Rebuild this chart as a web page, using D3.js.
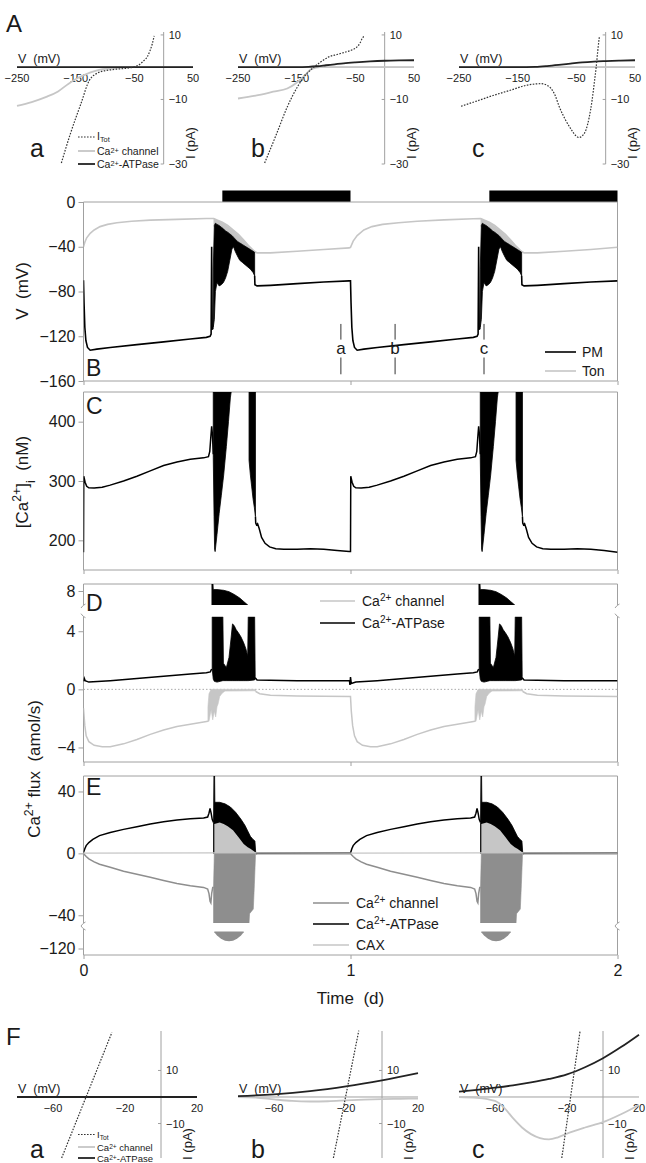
<!DOCTYPE html>
<html><head><meta charset="utf-8">
<script src="https://cdn.jsdelivr.net/npm/d3@7"></script>
<style>
body{margin:0;background:#fff;}
svg{display:block;font-family:"Liberation Sans",Arial,sans-serif;}
text{white-space:pre;fill:#1a1a1a;}
</style></head><body>
<svg id="fig" width="646" height="1163"></svg>
<script>
// ================= DATA =================
// time axis (days)
const timeTicks = [0, 1, 2];
const nightStart = [0.52, 1.52];
const nightEnd = [1.0, 2.0];
const markerTimes = [0.964, 1.167, 1.5];
const markerLabels = ["a", "b", "c"];
const vTicksB = [0, -40, -80, -120, -160];
const caTicksC = [400, 300, 200];
const fluxTicksD = [4, 0, -4];
const fluxTicksDUp = [8];
const fluxTicksE = [40, 0, -40];
const fluxTicksELow = [-120];

// Panel A: I-V curves [V (mV), I (pA)]
const ivTicksVA = [-250, -150, -50, 50];
const ivTicksIA = [10, -10, -30];
const A_a_tot = [[-174.4,-29.7],[-158.8,-20.5],[-141,-11.3],[-126.7,-4.1],[-108.9,-1.5],[-90,-0.8],[-73.2,-0.5],[-51.9,0],[-40,1.0],[-34,2.0],[-28,3.2],[-23.3,5.1],[-19.5,7.2],[-16.2,9.7]];
const A_a_chan = [[-250,-12],[-225,-10.8],[-200,-9.2],[-180,-7.5],[-162,-5.1],[-145,-3.2],[-130,-2],[-123,-1.5],[-110,-0.8],[-95,-0.4],[-80,-0.2],[-60,0],[50,0]];
const A_a_atp = [[-250,0],[50,0]];
const A_b_tot = [[-204.6,-29.7],[-185,-21],[-166,-12.3],[-150,-6.5],[-138,-3.1],[-124,-0.5],[-110,1.5],[-96.5,3.1],[-80,4.0],[-68.5,4.6],[-55,5.4],[-47.6,6.2],[-42,7.5],[-38,9],[-33.6,9.7]];
const A_b_chan = [[-250,-9.7],[-220,-8.8],[-190,-7.6],[-166,-6.6],[-150,-4.8],[-138,-2.9],[-124,-0.5],[-110,0],[50,0]];
const A_b_atp = [[-250,0],[-150,0],[-130,0.1],[-115,0.3],[-100,0.6],[-85,0.9],[-70,1.2],[-50,1.5],[-25,1.8],[0,2.0],[25,2.1],[50,2.15]];
const A_c_tot = [[-246.5,-12.1],[-220,-10.5],[-190.7,-8.7],[-160,-7],[-134.9,-5.6],[-120,-5.2],[-110,-5.1],[-100,-5.6],[-93,-6.6],[-86,-8.8],[-79,-12.3],[-68,-16.5],[-58,-19.5],[-51,-21.2],[-45.5,-21.8],[-40,-21.3],[-33.7,-19.5],[-28,-15.5],[-23.2,-10.3],[-19.5,-5],[-16.2,0],[-13.5,5],[-10.6,9.7]];
const A_c_chan = [[-250,0],[50,0]];
const A_c_atp = [[-250,0],[-150,0],[-120,0.1],[-100,0.35],[-80,0.7],[-60,1.1],[-40,1.5],[-20,1.75],[0,1.9],[25,2.05],[50,2.15]];

// Panel F: I-V curves [V (mV), I (pA)]
const ivTicksVF = [-60, -20, 20];
const ivTicksIF = [10, -10];
const F_a_tot = [[-55.2,-23],[-27.3,24.3]];
const F_a_chan = [[-80,0],[20,0]];
const F_a_atp = [[-80,0],[20,0]];
const F_b_tot = [[-27,-23],[-12.9,25]];
const F_b_chan = [[-80,0],[-70,-0.2],[-60,-0.9],[-50,-1.5],[-40,-1.7],[-30,-1.6],[-20,-1.3],[-10,-1.0],[0,-0.8],[10,-0.7],[20,-0.6]];
const F_b_atp = [[-80,0.3],[-60,1.0],[-40,2.2],[-20,4.0],[0,6.3],[20,9.0]];
const F_c_tot = [[-22.9,-23],[-12.7,25]];
const F_c_chan = [[-80,0],[-70,-0.3],[-60,-1.5],[-55,-4],[-50,-8],[-45,-11.5],[-40,-14],[-35,-15.5],[-30,-16],[-25,-15.2],[-20,-13.8],[-10,-11.5],[0,-9.5],[10,-6.5],[20,-3]];
const F_c_atp = [[-80,2.0],[-70,2.7],[-60,3.5],[-50,4.4],[-40,5.5],[-30,6.8],[-20,8.5],[-10,11.2],[0,14.6],[10,18.8],[20,23.5]];

// Panel B: membrane potential [t (d), V (mV)]; null = gap
const tonLine = [[0,-40],[0.005,-36],[0.012,-32],[0.025,-28],[0.04,-25],[0.062,-22],[0.09,-20],[0.125,-18.5],[0.18,-17.2],[0.25,-16.2],[0.35,-15.5],[0.46,-14.8],[0.487,-14.8],[0.49,-15],[0.5,-16],[0.52,-18],[0.54,-21],[0.56,-25],[0.58,-29],[0.6,-34],[0.62,-39.5],[0.64,-44],[0.65,-45.5],[0.7,-45.5],[0.8,-44],[0.9,-42.5],[0.995,-41],
  [1.0,-40.5],[1.01,-35],[1.025,-30],[1.05,-25],[1.08,-22],[1.12,-20],[1.18,-18.5],[1.25,-17.2],[1.35,-16],[1.46,-15],[1.487,-14.8],[1.49,-15],[1.5,-16],[1.52,-18],[1.54,-21],[1.56,-25],[1.58,-29],[1.6,-34],[1.62,-39.5],[1.64,-44],[1.65,-45.5],[1.7,-45.5],[1.8,-44],[1.9,-42.5],[2.0,-40.5]];
const tonBurst1 = [[0.487,-22,-14.8],[0.52,-25,-18],[0.56,-31,-25],[0.6,-39,-34],[0.64,-46,-44]];
const tonBurst2 = [[1.487,-22,-14.8],[1.52,-25,-18],[1.56,-31,-25],[1.6,-39,-34],[1.64,-46,-44]];
const pmLine = [[0,-70],[0.002,-90],[0.005,-112],[0.009,-124],[0.015,-130],[0.025,-132.5],[0.05,-131.5],[0.1,-130],[0.2,-127.5],[0.3,-125],[0.4,-122.5],[0.46,-121],[0.474,-120],[0.478,-118],[0.48,-40],[0.482,-114],[0.486,-112],[0.487,null],
  [0.641,-66],[0.642,-74],[0.65,-75],[0.7,-74.5],[0.8,-73],[0.9,-71.5],[0.995,-70.5],[1.0,-70.5],[1.002,-90],[1.005,-112],[1.009,-124],[1.015,-130],[1.025,-132.5],[1.05,-131.5],[1.1,-130],[1.2,-127.5],[1.3,-125],[1.4,-122.5],[1.46,-121],[1.474,-120],[1.478,-118],[1.48,-40],[1.482,-114],[1.486,-112],[1.487,null],
  [1.641,-66],[1.642,-74],[1.65,-75],[1.7,-74.5],[1.8,-73],[1.9,-71.5],[2.0,-70.5]];
const pmBurst1 = [[0.486,-112,-60],[0.49,-105,-21],[0.494,-80,-19],[0.5,-72,-20],[0.508,-75,-21],[0.516,-74,-22.5],[0.524,-72,-24],[0.532,-68,-26],[0.54,-62,-27],[0.548,-52,-28.5],[0.556,-42,-30],[0.562,-40,-31.5],[0.568,-44,-33],[0.576,-48,-35],[0.585,-52,-36.5],[0.595,-54,-38],[0.605,-56,-39.5],[0.615,-58,-41],[0.625,-60,-42.5],[0.635,-63,-44],[0.641,-66,-45]];
const pmBurst2 = [[1.486,-112,-60],[1.49,-105,-21],[1.494,-80,-19],[1.5,-72,-20],[1.508,-75,-21],[1.516,-74,-22.5],[1.524,-72,-24],[1.532,-68,-26],[1.54,-62,-27],[1.548,-52,-28.5],[1.556,-42,-30],[1.562,-40,-31.5],[1.568,-44,-33],[1.576,-48,-35],[1.585,-52,-36.5],[1.595,-54,-38],[1.605,-56,-39.5],[1.615,-58,-41],[1.625,-60,-42.5],[1.635,-63,-44],[1.641,-66,-45]];

// Panel C: cytosolic Ca2+ [t, nM]
const caLine = [[0,180],[0.001,308],[0.006,298],[0.012,291],[0.02,288.5],[0.04,288],[0.07,289.5],[0.1,293],[0.15,300],[0.2,308],[0.25,317],[0.3,326],[0.35,332],[0.4,336.5],[0.45,339],[0.468,341],[0.473,350],[0.477,375],[0.48,392],[0.483,378],[0.486,345],[0.487,null],
  [0.644,240],[0.645,229],[0.648,226],[0.652,228],[0.658,220],[0.667,205],[0.68,195],[0.697,189],[0.72,186],[0.75,185],[0.8,185],[0.85,186],[0.9,185],[0.95,183],[0.995,181],[1.0,181],
  [1.001,308],[1.006,298],[1.012,291],[1.02,288.5],[1.04,288],[1.07,289.5],[1.1,293],[1.15,300],[1.2,308],[1.25,317],[1.3,326],[1.35,332],[1.4,336.5],[1.45,339],[1.468,341],[1.473,350],[1.477,375],[1.48,392],[1.483,378],[1.486,345],[1.487,null],
  [1.644,240],[1.645,229],[1.648,226],[1.652,228],[1.658,220],[1.667,205],[1.68,195],[1.697,189],[1.72,186],[1.75,185],[1.8,185],[1.85,186],[1.9,185],[1.95,183],[2.0,180]];
const caBurst1a = [[0.486,340,450],[0.489,240,450],[0.491,185,450],[0.493,181,450],[0.5,210,450],[0.508,245,450],[0.516,275,450],[0.525,310,450],[0.535,358,450],[0.543,400,450],[0.55,440,450],[0.553,450,450]];
const caBurst1b = [[0.62,335,450],[0.625,310,450],[0.63,290,450],[0.635,270,450],[0.64,255,450],[0.644,240,450]];
const caBurst2a = [[1.486,340,450],[1.489,240,450],[1.491,185,450],[1.493,181,450],[1.5,210,450],[1.508,245,450],[1.516,275,450],[1.525,310,450],[1.535,358,450],[1.543,400,450],[1.55,440,450],[1.553,450,450]];
const caBurst2b = [[1.62,335,450],[1.625,310,450],[1.63,290,450],[1.635,270,450],[1.64,255,450],[1.644,240,450]];

// Panel D: PM fluxes [t, amol/s]
const dAtpLine = [[0,0.55],[0.003,0.75],[0.006,0.6],[0.02,0.5],[0.1,0.6],[0.2,0.75],[0.3,0.9],[0.4,1.05],[0.46,1.15],[0.475,1.2],[0.48,1.4],[0.481,null],
  [0.643,0.8],[0.65,0.65],[0.7,0.62],[0.8,0.6],[0.9,0.6],[0.996,0.6],[0.998,0.3],[1.0,0.85],[1.003,0.4],[1.02,0.5],[1.1,0.6],[1.2,0.75],[1.3,0.9],[1.4,1.05],[1.46,1.15],[1.475,1.2],[1.48,1.4],[1.481,null],
  [1.643,0.8],[1.65,0.65],[1.7,0.62],[1.8,0.6],[1.9,0.6],[2.0,0.6]];
const dAtpBurst1 = [[0.482,1.4,5],[0.486,0.7,5],[0.49,0.55,5],[0.5,0.5,5],[0.512,0.55,5],[0.522,0.6,5],[0.524,0.6,1.8],[0.535,0.6,1.5],[0.545,0.6,2.2],[0.552,0.6,3.4],[0.558,0.6,4.5],[0.564,0.6,4.4],[0.572,0.6,4.1],[0.58,0.6,3.9],[0.59,0.6,3.6],[0.6,0.6,3.2],[0.608,0.6,2.8],[0.615,0.6,2.3],[0.617,0.6,5],[0.641,0.65,5],[0.643,0.7,0.9]];
const dAtpBurst2 = [[1.482,1.4,5],[1.486,0.7,5],[1.49,0.55,5],[1.5,0.5,5],[1.512,0.55,5],[1.522,0.6,5],[1.524,0.6,1.8],[1.535,0.6,1.5],[1.545,0.6,2.2],[1.552,0.6,3.4],[1.558,0.6,4.5],[1.564,0.6,4.4],[1.572,0.6,4.1],[1.58,0.6,3.9],[1.59,0.6,3.6],[1.6,0.6,3.2],[1.608,0.6,2.8],[1.615,0.6,2.3],[1.617,0.6,5],[1.641,0.65,5],[1.643,0.7,0.9]];
const dAtpCap1 = [[0.481,7,8.5],[0.485,7,8.5],[0.486,7,8.1],[0.5,7,8.1],[0.525,7,8.05],[0.545,7,7.95],[0.565,7,7.75],[0.585,7,7.5],[0.6,7,7.25],[0.615,7,7.0]];
const dAtpCap2 = [[1.481,7,8.5],[1.485,7,8.5],[1.486,7,8.1],[1.5,7,8.1],[1.525,7,8.05],[1.545,7,7.95],[1.565,7,7.75],[1.585,7,7.5],[1.6,7,7.25],[1.615,7,7.0]];
const dChanLine = [[0,-1.3],[0.005,-2.5],[0.01,-3.2],[0.02,-3.6],[0.04,-3.85],[0.07,-3.95],[0.1,-3.95],[0.15,-3.75],[0.2,-3.45],[0.25,-3.1],[0.3,-2.8],[0.35,-2.55],[0.4,-2.4],[0.45,-2.25],[0.466,-2.2],[0.467,null],
  [0.645,-0.15],[0.66,-0.3],[0.7,-0.4],[0.8,-0.45],[0.9,-0.48],[1.0,-0.5],[1.003,-1.5],[1.008,-2.5],[1.015,-3.2],[1.025,-3.6],[1.045,-3.85],[1.075,-3.95],[1.1,-3.95],[1.15,-3.75],[1.2,-3.45],[1.25,-3.1],[1.3,-2.8],[1.35,-2.55],[1.4,-2.4],[1.45,-2.25],[1.466,-2.2],[1.467,null],
  [1.645,-0.15],[1.66,-0.3],[1.7,-0.4],[1.8,-0.45],[1.9,-0.48],[2.0,-0.5]];
const dChanBurst1 = [[0.466,-2.2,-1.2],[0.47,-2.2,-0.3],[0.478,-1.4,0],[0.484,-2.1,0],[0.49,-1.5,0],[0.495,-1.9,0],[0.5,-1.2,0],[0.504,-1.0,0],[0.51,-0.5,0],[0.52,-0.25,0],[0.53,-0.12,0],[0.64,-0.1,0],[0.645,-0.15,-0.05]];
const dChanBurst2 = [[1.466,-2.2,-1.2],[1.47,-2.2,-0.3],[1.478,-1.4,0],[1.484,-2.1,0],[1.49,-1.5,0],[1.495,-1.9,0],[1.5,-1.2,0],[1.504,-1.0,0],[1.51,-0.5,0],[1.52,-0.25,0],[1.53,-0.12,0],[1.64,-0.1,0],[1.645,-0.15,-0.05]];

// Panel E: tonoplast fluxes [t, amol/s]
const eAtpLine = [[0,0.5],[0.005,3],[0.01,5],[0.02,7],[0.035,9],[0.06,11.5],[0.1,13.5],[0.15,15.5],[0.2,17.2],[0.25,19],[0.3,20.5],[0.35,21.5],[0.4,22.3],[0.45,22.8],[0.465,23.5],[0.47,26],[0.474,29],[0.478,26],[0.482,22],[0.487,20],[0.488,null],
  [0.646,0.3],[0.7,0.3],[0.8,0.3],[0.9,0.3],[1.0,0.3],[1.005,3],[1.01,5],[1.02,7],[1.035,9],[1.06,11.5],[1.1,13.5],[1.15,15.5],[1.2,17.2],[1.25,19],[1.3,20.5],[1.35,21.5],[1.4,22.3],[1.45,22.8],[1.465,23.5],[1.47,26],[1.474,29],[1.478,26],[1.482,22],[1.487,20],[1.488,null],
  [1.646,0.3],[1.7,0.3],[1.8,0.3],[1.9,0.3],[2.0,0.3]];
const eAtpBurst1 = [[0.487,0,20],[0.4885,0,50],[0.491,0,50],[0.492,0,33],[0.51,0,33],[0.53,0,32],[0.55,0,30],[0.57,0,26.5],[0.59,0,22],[0.605,0,18],[0.615,0,14.5],[0.625,0,11],[0.635,0,9],[0.642,0,8],[0.645,0,0.5]];
const eAtpBurst2 = [[1.487,0,20],[1.4885,0,50],[1.491,0,50],[1.492,0,33],[1.51,0,33],[1.53,0,32],[1.55,0,30],[1.57,0,26.5],[1.59,0,22],[1.605,0,18],[1.615,0,14.5],[1.625,0,11],[1.635,0,9],[1.642,0,8],[1.645,0,0.5]];
const eCaxBurst1 = [[0.49,0,19],[0.51,0,20],[0.525,0,19],[0.54,0,17.5],[0.56,0,15],[0.58,0,10.5],[0.6,0,6],[0.615,0,4],[0.625,0,3],[0.645,0,0.5]];
const eCaxBurst2 = [[1.49,0,19],[1.51,0,20],[1.525,0,19],[1.54,0,17.5],[1.56,0,15],[1.58,0,10.5],[1.6,0,6],[1.615,0,4],[1.625,0,3],[1.645,0,0.5]];
const eCaxLine = [[0,0.2],[0.49,0.3],[0.65,0.3],[1.0,0.2],[1.49,0.3],[1.65,0.3],[2.0,0.2]];
const eChanLine = [[0,0],[0.01,-2],[0.02,-3.5],[0.04,-5.5],[0.06,-7],[0.1,-9],[0.15,-11.5],[0.2,-13.5],[0.25,-15.5],[0.3,-17.5],[0.35,-19.5],[0.4,-21],[0.45,-22],[0.465,-23],[0.47,-26],[0.474,-31],[0.477,-32],[0.48,-26],[0.484,-22],[0.488,-22],[0.489,null],
  [0.645,-0.6],[0.65,-0.3],[0.8,-0.3],[1.0,-0.3],[1.01,-2],[1.02,-3.5],[1.04,-5.5],[1.06,-7],[1.1,-9],[1.15,-11.5],[1.2,-13.5],[1.25,-15.5],[1.3,-17.5],[1.35,-19.5],[1.4,-21],[1.45,-22],[1.465,-23],[1.47,-26],[1.474,-31],[1.477,-32],[1.48,-26],[1.484,-22],[1.488,-22],[1.489,null],
  [1.645,-0.6],[1.65,-0.3],[1.8,-0.3],[2.0,-0.3]];
const eChanBurst1 = [[0.487,-45,-22],[0.49,-45,0],[0.62,-45,0],[0.622,-39,0],[0.636,-36,0],[0.64,-20,0],[0.644,-2,0]];
const eChanBurst2 = [[1.487,-45,-22],[1.49,-45,0],[1.62,-45,0],[1.622,-39,0],[1.636,-36,0],[1.64,-20,0],[1.644,-2,0]];
const eChanLow1 = [[0.49,-107.5,-107],[0.5,-110,-107],[0.515,-112.5,-107],[0.53,-114,-107],[0.545,-114.5,-107],[0.56,-114,-107],[0.575,-112.5,-107],[0.59,-110,-107],[0.6,-107.5,-107]];
const eChanLow2 = [[1.49,-107.5,-107],[1.5,-110,-107],[1.515,-112.5,-107],[1.53,-114,-107],[1.545,-114.5,-107],[1.56,-114,-107],[1.575,-112.5,-107],[1.59,-110,-107],[1.6,-107.5,-107]];

// ================= DRAWING =================
const svg = d3.select("#fig");
const AX = "#a0a0a0", LIGHT = "#c6c6c6", MID = "#8e8e8e", INK = "#000";
const X0 = 83.5, X1 = 617.5;
const x = d3.scaleLinear().domain([0, 2]).range([X0, X1]);

const yB = d3.scaleLinear().domain([-160, 0]).range([381, 202]);
const yC = d3.scaleLinear().domain([150, 450]).range([570, 392]);
const yD = d3.scaleLinear().domain([-5, 5]).range([762, 616.7]);
const yDu = d3.scaleLinear().domain([7, 8.5]).range([605, 584]);
const yE = d3.scaleLinear().domain([-45, 50]).range([923, 776]);
const yEl = d3.scaleLinear().domain([-125, -105]).range([955, 929]);

const defs = svg.append("defs");
let clipN = 0;
function clip(x0, y0, x1, y1) {
  const id = "cl" + (clipN++);
  defs.append("clipPath").attr("id", id).append("rect").attr("x", x0).attr("y", y0).attr("width", x1 - x0).attr("height", y1 - y0);
  return svg.append("g").attr("clip-path", `url(#${id})`);
}
const mkLine = (xs, ys) => d3.line().defined(d => d[1] !== null).x(d => xs(d[0])).y(d => ys(d[1]));
const mkArea = (xs, ys) => d3.area().x(d => xs(d[0])).y0(d => ys(d[1])).y1(d => ys(d[2]));

function richText(parent, parts, size) {
  const t = parent.append("text").attr("font-size", size);
  parts.forEach(([s, k]) => {
    const ts = t.append("tspan").text(s);
    if (k === "sup") ts.attr("baseline-shift", "super").attr("font-size", size * 0.72);
    if (k === "sub") ts.attr("baseline-shift", "sub").attr("font-size", size * 0.72);
    if (k === "subs") ts.attr("baseline-shift", "-1.5").attr("font-size", size * 0.7);
    if (k === "sups") ts.attr("baseline-shift", "2.5").attr("font-size", size * 0.7);
  });
  return t;
}
function hline(x0, x1, y, col, w) { svg.append("line").attr("x1", x0).attr("x2", x1).attr("y1", y).attr("y2", y).attr("stroke", col).attr("stroke-width", w || 1); }
function vline(xp, y0, y1, col, w) { svg.append("line").attr("x1", xp).attr("x2", xp).attr("y1", y0).attr("y2", y1).attr("stroke", col).attr("stroke-width", w || 1); }
function breakMark(xp, y, dir) {
  svg.append("path").attr("d", `M${xp - 2.5},${y + dir * 3} Q${xp - 0.5},${y} ${xp + 2},${y - dir * 1}`).attr("fill", "none").attr("stroke", AX).attr("stroke-width", 1);
}
function leftAxis(scale, ticks) {
  const g = svg.append("g").attr("transform", `translate(${X0},0)`)
    .call(d3.axisLeft(scale).tickValues(ticks).tickSize(5).tickPadding(3).tickFormat(d3.format("d")));
  g.select(".domain").remove();
  g.selectAll("line").attr("stroke", AX);
  g.selectAll("text").attr("font-size", 16).attr("fill", "#1a1a1a").attr("font-family", "Liberation Sans, Arial, sans-serif");
}
function bottomTicks(yp, labels) {
  const g = svg.append("g").attr("transform", `translate(0,${yp})`)
    .call(d3.axisBottom(x).tickValues(timeTicks).tickSize(4).tickPadding(6).tickFormat(labels ? d3.format("d") : ""));
  g.select(".domain").remove();
  g.selectAll("line").attr("stroke", AX);
  g.selectAll("text").attr("font-size", 16).attr("fill", "#1a1a1a").attr("font-family", "Liberation Sans, Arial, sans-serif");
}
function box(top, bottom, gaps) {
  hline(X0, X1, top, AX); hline(X0, X1, bottom, AX);
  if (!gaps) { vline(X0, top, bottom, AX); vline(X1, top, bottom, AX); return; }
  [X0, X1].forEach(xp => {
    vline(xp, top, gaps[0], AX); vline(xp, gaps[1], bottom, AX);
    breakMark(xp, gaps[0], 1); breakMark(xp, gaps[1], -1);
  });
}
function panelLetter(s, xp, yp, size) { svg.append("text").attr("x", xp).attr("y", yp).attr("font-size", size).text(s); }

// ---------- Panel B ----------
nightStart.forEach((s, i) => {
  svg.append("rect").attr("x", x(s)).attr("y", 190.5).attr("width", x(nightEnd[i]) - x(s)).attr("height", 11.5).attr("fill", "#000");
});
box(202, 381);
leftAxis(yB, vTicksB);
bottomTicks(381, false);
{
  const g = clip(X0, 202, X1, 381);
  g.append("path").attr("d", mkLine(x, yB)(tonLine)).attr("fill", "none").attr("stroke", LIGHT).attr("stroke-width", 1.6);
  [tonBurst1, tonBurst2].forEach(b => g.append("path").attr("d", mkArea(x, yB)(b)).attr("fill", LIGHT));
  g.append("path").attr("d", mkLine(x, yB)(pmLine)).attr("fill", "none").attr("stroke", INK).attr("stroke-width", 1.6);
  [pmBurst1, pmBurst2].forEach(b => g.append("path").attr("d", mkArea(x, yB)(b)).attr("fill", INK).attr("stroke", INK).attr("stroke-width", 0.8));
}
markerTimes.forEach((t, i) => {
  vline(x(t), yB(-109), yB(-123), "#333", 1);
  vline(x(t), yB(-139), yB(-154), "#333", 1);
  svg.append("text").attr("x", x(t)).attr("y", yB(-135.5)).attr("text-anchor", "middle").attr("font-size", 17).text(markerLabels[i]);
});
hline(545, 576, 352, INK, 1.6);
svg.append("text").attr("x", 582).attr("y", 357).attr("font-size", 14).text("PM");
hline(545, 576, 371, LIGHT, 1.6);
svg.append("text").attr("x", 582).attr("y", 376).attr("font-size", 14).text("Ton");
panelLetter("B", 86, 376, 23);
richText(svg, [["V  (mV)", ""]], 17).attr("transform", "translate(28,291) rotate(-90)").attr("text-anchor", "middle");

// ---------- Panel C ----------
box(392, 570);
leftAxis(yC, caTicksC);
bottomTicks(570, false);
{
  const g = clip(X0, 392, X1, 570);
  g.append("path").attr("d", mkLine(x, yC)(caLine)).attr("fill", "none").attr("stroke", INK).attr("stroke-width", 1.5);
  [caBurst1a, caBurst1b, caBurst2a, caBurst2b].forEach(b => g.append("path").attr("d", mkArea(x, yC)(b)).attr("fill", INK).attr("stroke", INK).attr("stroke-width", 0.8));
}
panelLetter("C", 86, 414, 23);
richText(svg, [["[Ca", ""], ["2+", "sup"], ["]", ""], ["i", "sub"], ["  (nM)", ""]], 17).attr("transform", "translate(28,482) rotate(-90)").attr("text-anchor", "middle");

// ---------- Panel D ----------
box(584, 762, [605, 616.7]);
leftAxis(yD, fluxTicksD);
leftAxis(yDu, fluxTicksDUp);
bottomTicks(762, false);
{
  const g = clip(X0, 616.7, X1, 762);
  g.append("line").attr("x1", X0).attr("x2", X1).attr("y1", yD(0)).attr("y2", yD(0)).attr("stroke", "#aaa").attr("stroke-dasharray", "1.5,2");
  g.append("path").attr("d", mkLine(x, yD)(dChanLine)).attr("fill", "none").attr("stroke", LIGHT).attr("stroke-width", 1.5);
  [dChanBurst1, dChanBurst2].forEach(b => g.append("path").attr("d", mkArea(x, yD)(b)).attr("fill", LIGHT).attr("stroke", LIGHT).attr("stroke-width", 0.6));
  g.append("path").attr("d", mkLine(x, yD)(dAtpLine)).attr("fill", "none").attr("stroke", INK).attr("stroke-width", 1.5);
  [dAtpBurst1, dAtpBurst2].forEach(b => g.append("path").attr("d", mkArea(x, yD)(b)).attr("fill", INK).attr("stroke", INK).attr("stroke-width", 0.8));
  const gu = clip(X0, 584, X1, 605);
  [dAtpCap1, dAtpCap2].forEach(b => gu.append("path").attr("d", mkArea(x, yDu)(b)).attr("fill", INK).attr("stroke", INK).attr("stroke-width", 0.8));
}
hline(320, 355, 601, LIGHT, 1.6);
richText(svg, [["Ca", ""], ["2+", "sup"], [" channel", ""]], 14).attr("x", 362).attr("y", 606);
hline(320, 355, 623, INK, 1.6);
richText(svg, [["Ca", ""], ["2+", "sup"], ["-ATPase", ""]], 14).attr("x", 362).attr("y", 628);
panelLetter("D", 86, 611, 23);

// ---------- Panel E ----------
box(776, 955, [923, 929]);
leftAxis(yE, fluxTicksE);
leftAxis(yEl, fluxTicksELow);
bottomTicks(955, true);
{
  const g = clip(X0, 776, X1, 923);
  g.append("path").attr("d", mkLine(x, yE)(eChanLine)).attr("fill", "none").attr("stroke", MID).attr("stroke-width", 1.5);
  g.append("path").attr("d", mkLine(x, yE)(eAtpLine)).attr("fill", "none").attr("stroke", INK).attr("stroke-width", 1.5);
  [eAtpBurst1, eAtpBurst2].forEach(b => g.append("path").attr("d", mkArea(x, yE)(b)).attr("fill", INK).attr("stroke", INK).attr("stroke-width", 0.8));
  [eCaxBurst1, eCaxBurst2].forEach(b => g.append("path").attr("d", mkArea(x, yE)(b)).attr("fill", LIGHT));
  [eChanBurst1, eChanBurst2].forEach(b => g.append("path").attr("d", mkArea(x, yE)(b)).attr("fill", MID).attr("stroke", MID).attr("stroke-width", 0.6));
  g.append("path").attr("d", mkLine(x, yE)(eCaxLine)).attr("fill", "none").attr("stroke", LIGHT).attr("stroke-width", 1.3);
  const gl = clip(X0, 929, X1, 955);
  [eChanLow1, eChanLow2].forEach(b => gl.append("path").attr("d", mkArea(x, yEl)(b)).attr("fill", MID));
}
hline(313, 349, 903, MID, 1.6);
richText(svg, [["Ca", ""], ["2+", "sup"], [" channel", ""]], 14).attr("x", 356).attr("y", 908);
hline(313, 349, 924, INK, 1.6);
richText(svg, [["Ca", ""], ["2+", "sup"], ["-ATPase", ""]], 14).attr("x", 356).attr("y", 929);
hline(313, 349, 945, LIGHT, 1.6);
svg.append("text").attr("x", 356).attr("y", 950).attr("font-size", 14).text("CAX");
panelLetter("E", 86, 795, 23);
richText(svg, [["Ca", ""], ["2+", "sup"], [" flux  (amol/s)", ""]], 17).attr("transform", "translate(40,769) rotate(-90)").attr("text-anchor", "middle");
svg.append("text").attr("x", x(1)).attr("y", 1004).attr("text-anchor", "middle").attr("font-size", 17).text("Time  (d)");

// ---------- Panels A and F (I-V) ----------
function ivPanel(ox, vDom, vW, iDom, iRange, data, vTicks, iTicks, letter, letterY, fs, showLegend, legendYs, ipaY, lfs) {
  const vs = d3.scaleLinear().domain(vDom).range([ox, ox + vW]);
  const is = d3.scaleLinear().domain(iDom).range(iRange);
  const ax0 = vs(0), y0 = is(0);
  svg.append("line").attr("x1", vs(vDom[0])).attr("x2", vs(vDom[1])).attr("y1", y0).attr("y2", y0).attr("stroke", AX);
  svg.append("line").attr("x1", ax0).attr("x2", ax0).attr("y1", iRange[1] - 1).attr("y2", iRange[0]).attr("stroke", AX);
  iTicks.forEach(v => {
    svg.append("line").attr("x1", ax0 - 3).attr("x2", ax0).attr("y1", is(v)).attr("y2", is(v)).attr("stroke", AX);
    svg.append("text").attr("x", ax0 + 5).attr("y", is(v) + 4).attr("font-size", fs).text(d3.format("d")(v));
  });
  vTicks.forEach(v => {
    svg.append("text").attr("x", vs(v)).attr("y", y0 + 15).attr("text-anchor", "middle").attr("font-size", fs).text(d3.format("d")(v));
  });
  svg.append("text").attr("x", ox + 1).attr("y", y0 - 4).attr("font-size", fs + 1.5).text("V  (mV)");
  svg.append("text").attr("transform", `translate(${ax0 + 31},${ipaY}) rotate(-90)`).attr("text-anchor", "middle").attr("font-size", fs + 2).text("I (pA)");
  svg.append("text").attr("x", ox + 13).attr("y", letterY).attr("font-size", 25).text(letter);
  const g = clip(vs(vDom[0]) - 1, iRange[1] - 2, vs(vDom[1]) + 1, iRange[0] + 1);
  const ln = d3.line().curve(d3.curveMonotoneX).x(d => vs(d[0])).y(d => is(d[1]));
  g.append("path").attr("d", ln(data.chan)).attr("fill", "none").attr("stroke", LIGHT).attr("stroke-width", 1.8);
  g.append("path").attr("d", ln(data.atp)).attr("fill", "none").attr("stroke", "#222").attr("stroke-width", 1.8);
  g.append("path").attr("d", ln(data.tot)).attr("fill", "none").attr("stroke", "#333").attr("stroke-width", 1.2).attr("stroke-dasharray", "1.6,1.4");
  if (showLegend) {
    const lx0 = ox + 61, lx1 = ox + 78, tx = ox + 80;
    svg.append("line").attr("x1", lx0).attr("x2", lx1).attr("y1", legendYs[0]).attr("y2", legendYs[0]).attr("stroke", "#333").attr("stroke-width", 1.2).attr("stroke-dasharray", "1.6,1.4");
    richText(svg, [["I", ""], ["Tot", "subs"]], lfs).attr("x", tx).attr("y", legendYs[0] + 3);
    svg.append("line").attr("x1", lx0).attr("x2", lx1).attr("y1", legendYs[1]).attr("y2", legendYs[1]).attr("stroke", LIGHT).attr("stroke-width", 1.8);
    richText(svg, [["Ca", ""], ["2+", "sups"], [" channel", ""]], lfs).attr("x", tx).attr("y", legendYs[1] + 3.5);
    svg.append("line").attr("x1", lx0).attr("x2", lx1).attr("y1", legendYs[2]).attr("y2", legendYs[2]).attr("stroke", "#222").attr("stroke-width", 1.8);
    richText(svg, [["Ca", ""], ["2+", "sups"], ["-ATPase", ""]], lfs).attr("x", tx).attr("y", legendYs[2] + 3.5);
  }
}
const aOff = [17, 238, 459];
ivPanel(aOff[0], [-250, 50], 176, [-30, 10.6], [164, 33], { tot: A_a_tot, chan: A_a_chan, atp: A_a_atp }, ivTicksVA, ivTicksIA, "a", 157, 11, true, [137, 151, 164], 143, 10.5);
ivPanel(aOff[1], [-250, 50], 176, [-30, 10.6], [164, 33], { tot: A_b_tot, chan: A_b_chan, atp: A_b_atp }, ivTicksVA, ivTicksIA, "b", 157, 11, false, null, 143);
ivPanel(aOff[2], [-250, 50], 176, [-30, 10.6], [164, 33], { tot: A_c_tot, chan: A_c_chan, atp: A_c_atp }, ivTicksVA, ivTicksIA, "c", 157, 11, false, null, 143);
panelLetter("A", 6, 32, 24);

ivPanel(aOff[0], [-80, 20], 180, [-23, 24.5], [1158, 1032], { tot: F_a_tot, chan: F_a_chan, atp: F_a_atp }, ivTicksVF, ivTicksIF, "a", 1158, 11, true, [1134.5, 1147, 1158], 1144, 9.5);
ivPanel(aOff[1], [-80, 20], 180, [-23, 24.5], [1158, 1032], { tot: F_b_tot, chan: F_b_chan, atp: F_b_atp }, ivTicksVF, ivTicksIF, "b", 1158, 11, false, null, 1144);
ivPanel(aOff[2], [-80, 20], 180, [-23, 24.5], [1158, 1032], { tot: F_c_tot, chan: F_c_chan, atp: F_c_atp }, ivTicksVF, ivTicksIF, "c", 1158, 11, false, null, 1144);
panelLetter("F", 6, 1045, 24);
</script>
</body></html>
